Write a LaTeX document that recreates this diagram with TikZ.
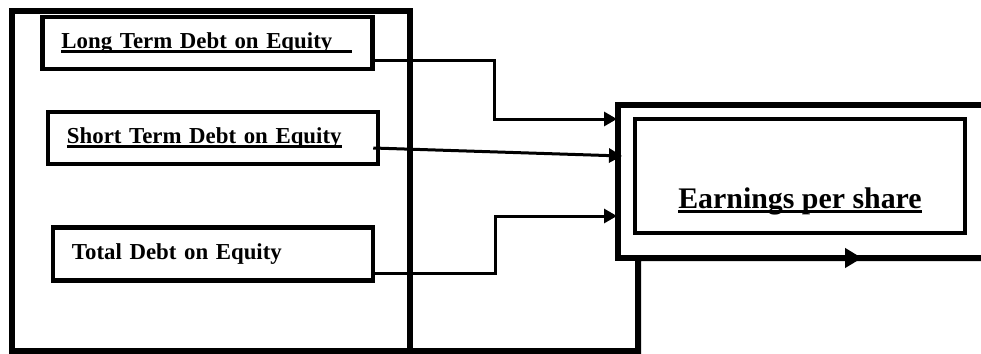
\documentclass[tikz,border=0pt]{standalone}
\usepackage{fontspec}
\setmainfont{Liberation Serif}
\usetikzlibrary{arrows.meta}
% thick underline, optionally running on past the text
\newcommand\ulbox[2][0pt]{\setbox0\hbox{#2}\rlap{\rule[-2.6pt]{\dimexpr\wd0+#1\relax}{1.5pt}}\box0}

\begin{document}
\begin{tikzpicture}[x=0.2mm, y=-0.2mm,
>={Triangle[length=2.6mm,width=2.8mm]},
every node/.style={inner sep=0pt}]
\tikzstyle{bigframe} = [line width=1.2mm]
\tikzstyle{box} = [draw, line width=0.9mm, align=left, inner xsep=3.8mm, text width=58.4mm, minimum height=10.4mm, font=\fontsize{13}{15}\selectfont\bfseries]
\tikzstyle{ar} = [->, line width=0.6mm]
\useasboundingbox (0,0) rectangle (981,354);

\node[draw, bigframe, minimum width=79.6mm, minimum height=68mm](inputs) at (211,181){};
\node[box](ltd) at (207.5,43){\ulbox[4mm]{Long Term Debt on Equity}};
\node[box](std) at (213,138){\ulbox{Short Term Debt on Equity}};
\node[box, text width=56.4mm, minimum height=10.6mm](tde) at (213,254){Total Debt on Equity};

% output side
\draw[bigframe] (981,105) -- (618,105) -- (618,258) -- (640,258);
\node[draw, line width=0.8mm, minimum width=66mm, minimum height=22.8mm](eps) at (800,176){};
\node[font=\fontsize{17}{20}\selectfont\bfseries](epstext) at ([yshift=-5mm]eps.center){\ulbox{Earnings per share}};

\coordinate(in1) at (617,119);
\coordinate(in2) at (622,156);
\coordinate(in3) at (617,216);
\draw[ar] ([yshift=-3.4mm]ltd.east) -- ++(120,0) |- (in1);
\draw[ar] ([xshift=-1.4mm,yshift=-2mm]std.east) -- (in2);
\draw[ar] ([yshift=-3.8mm]tde.east) -- ++(120,0) |- (in3);

% loop under the output
\draw[bigframe] ([yshift=0.6mm]inputs.south east) -- (638,351) -- (638,258) -- (981,258);
\coordinate(fb) at (862,258);
\draw[bigframe, -{Triangle[length=3.4mm,width=3.8mm]}] ([xshift=-6mm]fb) -- (fb);
\end{tikzpicture}
\end{document}
